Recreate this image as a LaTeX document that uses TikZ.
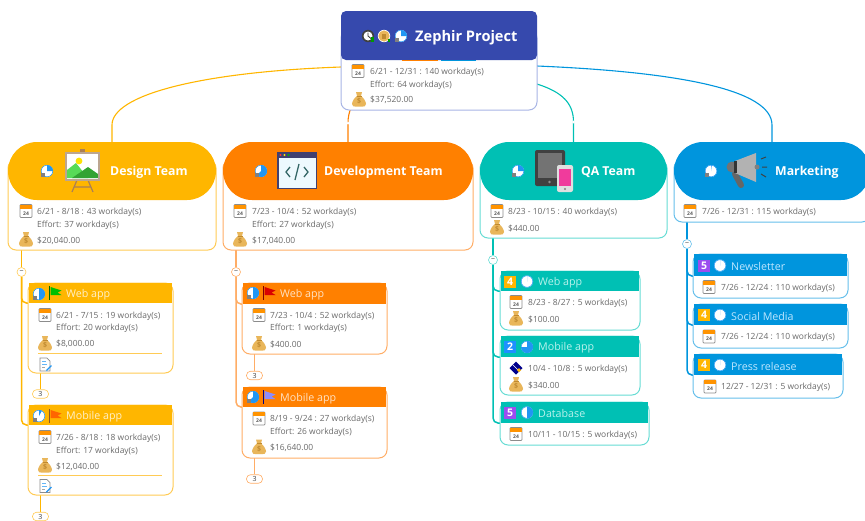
\documentclass[tikz,border=0pt]{standalone}
\usepackage{fontspec}
\setmainfont{Open Sans}
\usetikzlibrary{calc}
\pgfdeclarelayer{wires}\pgfsetlayers{wires,main}
\definecolor{cRoot}{HTML}{3649AD}\definecolor{bRoot}{HTML}{A8B5E5}
\definecolor{cDes}{HTML}{FFB600}\definecolor{bDes}{HTML}{FFCB55}\definecolor{tDes}{HTML}{FFF0C8}
\definecolor{cDev}{HTML}{FF8000}\definecolor{bDev}{HTML}{FFAD66}\definecolor{tDev}{HTML}{FFE2C4}
\definecolor{cQA}{HTML}{00C0B4}\definecolor{bQA}{HTML}{66DCD4}\definecolor{tQA}{HTML}{B8F2EC}
\definecolor{cMk}{HTML}{0095DD}\definecolor{bMk}{HTML}{66BFEB}\definecolor{tMk}{HTML}{BDE6FF}
\definecolor{txtc}{HTML}{6A6A6A}\definecolor{pieb}{HTML}{2196F3}
\definecolor{bagc}{HTML}{E9B65A}\definecolor{bagd}{HTML}{C08A30}
\definecolor{nYel}{HTML}{FFB600}\definecolor{nBlu}{HTML}{1E90FF}\definecolor{nPur}{HTML}{9B4DF0}
\newcounter{tc}
\newcommand\txt[3]{\stepcounter{tc}\node[txt] (txt\arabic{tc}) at (#1,#2) {#3};}
\newcommand\boxn[6]{%
  \pgfmathsetmacro\bw{#4-#2}\pgfmathsetmacro\bh{#5-#3}%
  \pgfmathsetmacro\bx{(#2+#4)/2}\pgfmathsetmacro\by{(#3+#5)/2}%
  \node[minimum width=\bw pt,minimum height=\bh pt,inner sep=0pt,outer sep=0pt,#6] (#1) at (\bx,\by) {};}
% sub topic: name x1 ytop x2 yhead ybottom header-colour border-colour
\newcommand\subtopic[8]{%
  \boxn{#1Body}{\the\numexpr#2-1\relax}{#3}{\the\numexpr#4+1\relax}{#6}{draw=#8,fill=white,rounded corners=8pt,line width=1pt}
  \boxn{#1}{#2}{#3}{#4}{#5}{fill=#7}}
% team: name x1 x2 ybottom colour border
\newcommand\teamtopic[6]{%
  \boxn{#1Body}{#2}{160}{#3}{#4}{draw=#6,fill=white,rounded corners=8pt,line width=1pt}
  \boxn{#1}{#2}{142}{#3}{200}{fill=#5,rounded corners=29pt}}
\newcommand\pieic[4][]{%
  \fill[white] (#2,#3) circle (6pt);
  \fill[pieb] (#2,#3) -- ++(-90:6) arc[start angle=-90,delta angle={3.6*#4},radius=6] -- cycle;
  \draw[pieb,line width=.5pt] (#2,#3) circle (5.8pt);
  \ifx\relax#1\relax\else\fill[#1] ($(#2,#3)+(-6.5,1.5)$) rectangle ($(#2,#3)+(-2.5,6)$);\fi}
\newcommand\numb[4]{\stepcounter{tc}\node[fill=#3,text=white,font=\bfseries\fontsize{10.5}{11}\selectfont,minimum size=12pt,inner sep=0pt] (num\arabic{tc}) at (#1,#2) {#4};}
\newcommand\flagic[4]{%
  \draw[#4,line width=1pt] ($(#1,#2)+(0,-7)$) -- ($(#1,#2)+(0,7)$);
  \fill[#3] ($(#1,#2)+(1,-6)$) -- ++(11,3.5) -- ++(-4,2) -- ++(4,2.5) -- ++(-11,0) -- cycle;}
\tikzset{
  x=1pt,y=-1pt,
  txt/.style={anchor=west,inner sep=0pt,yshift=-.7pt,text=txtc,font=\fontsize{8.45}{10}\selectfont},
  team/.style={anchor=west,inner sep=0pt,yshift=-1pt,text=white,font=\bfseries\fontsize{12.3}{14}\selectfont},
  sub/.style={anchor=west,inner sep=0pt,yshift=-.5pt,font=\fontsize{10.7}{12}\selectfont},
  conn/.style={line width=1.1pt},
  trunk/.style={line width=1.5pt},
  hint/.style={circle,fill=white,minimum size=3pt,inner sep=0pt},
  tog/.style={circle,draw=#1,fill=white,line width=.6pt,minimum size=9pt,inner sep=0pt,text=gray,font=\bfseries\fontsize{7}{7}\selectfont},
  cnt/.style={draw=#1,fill=white,rounded corners=4pt,line width=.6pt,minimum width=16pt,minimum height=8.5pt,inner sep=0pt,text=black!75,font=\fontsize{7}{7}\selectfont},
  cal/.pic={
    \draw[gray!90,fill=white,line width=.7pt,rounded corners=.8pt] (-6,-6.5) rectangle (6,6.5);
    \fill[orange!85!yellow] (-6,-6.5) rectangle (6,-2.5);
    \node[inner sep=0pt,text=black!65,font=\bfseries\fontsize{5}{5}\selectfont] at (0,2.2) {24};},
  moneybag/.pic={
    \fill[bagc] (-3,-7) -- (3,-7) -- (2,-3) .. controls (5,-1) and (7,3) .. (7,5) .. controls (7,7.5) and (5,7.5) .. (4,7.5) -- (-4,7.5) .. controls (-5,7.5) and (-7,7.5) .. (-7,5) .. controls (-7,3) and (-5,-1) .. (-2,-3) -- cycle;
    \draw[bagd,line width=.6pt] (-2.5,-3) -- (2.5,-3);
    \node[inner sep=0pt,text=bagd,font=\bfseries\fontsize{7}{7}\selectfont] at (0,2.3) {\$};},
  docic/.pic={
    \draw[gray!90,fill=white,line width=.7pt] (-5,-6.5) -- (2,-6.5) -- (5,-3.5) -- (5,6.5) -- (-5,6.5) -- cycle;
    \draw[pieb!70,line width=.8pt] (-3,-3) -- (1,-3) (-3,0) -- (2,0);
    \draw[gray!70,line width=.6pt] (-3,3) -- (0,3);
    \draw[pieb,line width=1.4pt] (1.5,6) -- (6.5,1);},
  miles/.pic={
    \fill[blue!55!black] (0,-6.5) -- (6.5,0) -- (0,6.5) -- (-6.5,0) -- cycle;
    \draw[white,line width=.7pt] (-3,-3) -- (3,3);
    \fill[nYel] (3,0) -- (5,2) -- (3,4) -- (1,2) -- cycle;},
}
\begin{document}
\begin{tikzpicture}
\clip (0,0) rectangle (865,520);

% ================ ROOT
\boxn{rootBody}{341}{30}{537}{110}{draw=bRoot,fill=white,rounded corners=8pt,line width=1pt}
\boxn{root}{341}{11}{537}{60}{fill=cRoot,rounded corners=5pt}
\coordinate (rootA) at (341,67);
\coordinate (rootB) at (420,60);
\coordinate (rootC) at (537,84);
\coordinate (rootD) at (537,66);
% clock icon
\fill[black!75] (368,36) circle (6.2pt);
\fill[white] (368,36) circle (4.5pt);
\draw[black!80,line width=.8pt] (368,32.5) -- (368,36) -- (371,38.5);
\fill[green!60!black] (371,37) rectangle (374,42);
% money circle icon
\fill[white] (384,36) circle (6.2pt);
\fill[bagc] (384,36) circle (5.6pt);
\fill[bagd] (382,34) rectangle (386,39);
\fill[green!60!black] (388,39) rectangle (390,42);
\pieic[gray]{401}{36}{25}
\node[anchor=west,inner sep=0pt,text=white,font=\bfseries\fontsize{14.6}{16}\selectfont] (rootTitle) at (415,37.5) {Zephir Project};
\pic at (358,71) {cal};
\pic at (359,99) {moneybag};
\txt{370}{71.5}{6/21 - 12/31 : 140 workday(s)}
\txt{370}{84.5}{Effort: 64 workday(s)}
\txt{370}{99.5}{\$37,520.00}

% ================ TEAMS
\teamtopic{design}{8}{216}{250}{cDes}{bDes}
\pieic[gray]{47}{171}{25}
% easel
\fill[brown!70!gray] (80,149) rectangle (85,154);
\draw[brown!70!gray,line width=1.2pt] (77,180) -- (72,192) (88,180) -- (93,192) (74,187) -- (91,187);
\fill[white] (66,153) rectangle (99,180);
\fill[green!65!gray!80!white] (67,178) -- (67,170) -- (76,163) -- (88,178) -- cycle;
\fill[green!55!black!80!white] (72,178) -- (88,167) -- (98,174) -- (98,178) -- cycle;
\fill[yellow!85!orange] (79,161) circle (3.4pt);
\draw[brown!50!gray!70!white,line width=1.2pt] (66,153) rectangle (99,180);
\node[team] (designTitle) at (110,171) {Design Team};
\pic at (26,211) {cal};
\pic at (26,239) {moneybag};
\txt{37}{212}{6/21 - 8/18 : 43 workday(s)}
\txt{37}{224.5}{Effort: 37 workday(s)}
\txt{37}{240}{\$20,040.00}

\teamtopic{dev}{223}{473}{250}{cDev}{bDev}
\pieic[gray]{261}{171}{62}
% code window
\fill[black!75!blue!75] (277,152) rectangle (317,189);
\fill[white!93!cyan] (278.5,158) rectangle (315.5,187.5);
\fill[red!80] (280.5,155) circle (1.1pt);
\fill[yellow!85!orange] (284.5,155) circle (1.1pt);
\fill[green!70!black] (288.5,155) circle (1.1pt);
\draw[teal!50!black!80,line width=1.3pt] (290,167) -- (286,172) -- (290,177) (299,164) -- (295,180) (304,167) -- (308,172) -- (304,177);
\node[team] (devTitle) at (324,171) {Development Team};
\pic at (240,211) {cal};
\pic at (240,239) {moneybag};
\txt{252}{212}{7/23 - 10/4 : 52 workday(s)}
\txt{252}{224.5}{Effort: 27 workday(s)}
\txt{252}{240}{\$17,040.00}

\teamtopic{qa}{480}{667}{238}{cQA}{bQA}
\pieic[gray]{518}{171}{25}
% tablet and phone
\fill[black!75,rounded corners=2pt] (535,150) rectangle (565,186);
\fill[black!55] (538,153) rectangle (562,178);
\fill[black!45] (549.5,182) circle (1.4pt);
\fill[black!12,rounded corners=2pt] (557,165) rectangle (573,192);
\fill[magenta!70!pink] (559,169) rectangle (571,186);
\fill[black!50] (565,189) circle (1.2pt);
\node[team] (qaTitle) at (581,171) {QA Team};
\pic at (497,211) {cal};
\pic at (497,227) {moneybag};
\txt{508}{212}{8/23 - 10/15 : 40 workday(s)}
\txt{508}{227.5}{\$440.00}

\teamtopic{mkt}{674}{870}{222}{cMk}{bMk}
\pieic[gray]{711}{171}{2}
% megaphone
\draw[black!60,line width=6pt,line cap=round] (735,174) -- (741,185);
\fill[black!55] (732,167) circle (5.5pt);
\fill[black!30] (735,161) -- (756,153) -- (756,182) -- (735,173) -- cycle;
\fill[black!80] (734,161) rectangle (736.5,173);
\fill[black!50] (757,167) circle (2.5pt);
\draw[black!75,line width=1pt] (761,159) -- (766,157) (762,167) -- (767,167) (761,174) -- (766,177);
\node[team] (mktTitle) at (775,171) {Marketing};
\pic at (690,211) {cal};
\txt{702}{212}{7/26 - 12/31 : 115 workday(s)}

% ================ DESIGN CHILDREN
\subtopic{dw}{29}{283}{172}{303}{373}{cDes}{bDes}
\pieic[gray]{39}{294}{50}
\flagic{49.5}{293}{green!75!black}{green!40!black}
\node[sub,text=tDes] (dwTitle) at (66,294) {Web app};
\pic at (45,315) {cal};
\pic at (45,343) {moneybag};
\txt{56}{315.5}{6/21 - 7/15 : 19 workday(s)}
\txt{56}{328}{Effort: 20 workday(s)}
\txt{56}{343.5}{\$8,000.00}
\draw[bDes,line width=1pt] (38,353.5) -- (162,353.5);
\pic at (45,364.5) {docic};

\subtopic{dm}{29}{405}{172}{425}{495}{cDes}{bDes}
\pieic[gray]{39}{416}{8}
\flagic{49.5}{416}{orange!80!red}{brown!70!black}
\node[sub,text=tDes] (dmTitle) at (66,416.5) {Mobile app};
\pic at (45,437) {cal};
\pic at (45,465) {moneybag};
\txt{56}{438}{7/26 - 8/18 : 18 workday(s)}
\txt{56}{450.5}{Effort: 17 workday(s)}
\txt{56}{466}{\$12,040.00}
\draw[bDes,line width=1pt] (38,475.5) -- (162,475.5);
\pic at (45,486) {docic};

% ================ DEV CHILDREN
\subtopic{vw}{243}{283}{386}{304}{354}{cDev}{bDev}
\pieic[gray]{253}{293}{50}
\flagic{263.5}{293}{red!85!black}{red!50!black}
\node[sub,text=tDev] (vwTitle) at (280,294) {Web app};
\pic at (259,315) {cal};
\pic at (259,343) {moneybag};
\txt{270}{315.5}{7/23 - 10/4 : 52 workday(s)}
\txt{270}{328}{Effort: 1 workday(s)}
\txt{270}{343.5}{\$400.00}

\subtopic{vm}{243}{387}{386}{407}{458}{cDev}{bDev}
\pieic[gray]{253}{397}{62}
\flagic{263.5}{397}{blue!45!white}{blue!50!black}
\node[sub,text=tDev] (vmTitle) at (280,398) {Mobile app};
\pic at (259,418.5) {cal};
\pic at (259,446.5) {moneybag};
\txt{270}{419}{8/19 - 9/24 : 27 workday(s)}
\txt{270}{431.5}{Effort: 26 workday(s)}
\txt{270}{447}{\$16,640.00}

% ================ QA CHILDREN
\subtopic{qw}{501}{271}{639}{291}{330}{cQA}{bQA}
\numb{510}{281.5}{nYel}{4}
\pieic{527}{281.5}{0}
\node[sub,text=tQA] (qwTitle) at (538,282) {Web app};
\pic at (516,302) {cal};
\pic at (516,318) {moneybag};
\txt{528}{303}{8/23 - 8/27 : 5 workday(s)}
\txt{528}{318.5}{\$100.00}

\subtopic{qm}{501}{336}{639}{357}{395}{cQA}{bQA}
\numb{510}{347}{nBlu}{2}
\pieic{527}{347}{75}
\node[sub,text=tQA] (qmTitle) at (538,347.5) {Mobile app};
\pic at (516,368) {miles};
\pic at (516,384) {moneybag};
\txt{528}{369}{10/4 - 10/8 : 5 workday(s)}
\txt{528}{384.5}{\$340.00}

\subtopic{qd}{501}{402}{648}{423}{445}{cQA}{bQA}
\numb{510}{412.5}{nPur}{5}
\pieic{527}{412.5}{50}
\node[sub,text=tQA] (qdTitle) at (538,413) {Database};
\pic at (516,434) {cal};
\txt{528}{434.5}{10/11 - 10/15 : 5 workday(s)}

% ================ MARKETING CHILDREN
\subtopic{mn}{694}{254}{847}{276}{298}{cMk}{bMk}
\numb{704}{265.5}{nPur}{5}
\pieic{720}{265.5}{0}
\node[sub,text=tMk] (mnTitle) at (731,266) {Newsletter};
\pic at (709,287) {cal};
\txt{721}{287.5}{7/26 - 12/24 : 110 workday(s)}

\subtopic{ms}{694}{304}{847}{325}{348}{cMk}{bMk}
\numb{704}{315}{nYel}{4}
\pieic{720}{315}{0}
\node[sub,text=tMk] (msTitle) at (731,316) {Social Media};
\pic at (709,336.5) {cal};
\txt{721}{337}{7/26 - 12/24 : 110 workday(s)}

\subtopic{mp}{694}{354}{842}{375}{398}{cMk}{bMk}
\numb{704}{365}{nYel}{4}
\pieic{720}{365}{0}
\node[sub,text=tMk] (mpTitle) at (731,366) {Press release};
\pic at (710,386.5) {cal};
\txt{721}{387}{12/27 - 12/31 : 5 workday(s)}

% ================ TOGGLES AND COUNTS
\node[tog=bDes] (dTog) at (21.5,272) {−};
\node[tog=bDev] (vTog) at (236,272) {−};
\node[tog=bQA] (qTog) at (493,260) {−};
\node[tog=bMk] (mTog) at (687,244) {−};
\node[cnt=bDes] (dwCnt) at (40.5,394) {3};
\node[cnt=bDes] (dmCnt) at (40.5,516.5) {3};
\node[cnt=bDev] (vwCnt) at (254.5,375.5) {3};
\node[cnt=bDev] (vmCnt) at (254.5,479) {3};
\node[hint] (devHint) at (348,123) {};
\node[hint] (qaHint) at (573.5,122) {};

% glints of the connectors under the root header
\draw[cDev,line width=1pt] (402,60.6) -- (438,60.6);
\draw[cMk,line width=1pt] (441,60.6) -- (476,60.6);

% ================ CONNECTORS (behind everything)
\begin{pgfonlayer}{wires}
\draw[conn,cDes] (rootA) .. controls (200,72) and (112,95) .. (112,125) -- (design.north);
\draw[conn,cDev] (rootB) .. controls (365,85) and (348,100) .. (devHint.center) -- (dev.north);
\draw[conn,cQA] (rootC) .. controls (562,92) and (573.5,103) .. (qaHint.center) -- (qa.north);
\draw[conn,cMk] (rootD) .. controls (680,72) and (772,90) .. (772,125) -- (mkt.north);

\draw[trunk,cDes] (designBody.south -| dTog) -- (dTog);
\draw[trunk,cDes,rounded corners=5pt] (dTog) |- (dw.south west);
\draw[trunk,cDes,rounded corners=5pt] (dTog) |- (dm.south west);
\draw[trunk,cDes] (dwBody.south -| dwCnt) -- (dwCnt);
\draw[trunk,cDes] (dmBody.south -| dmCnt) -- (dmCnt);

\draw[trunk,bDev] (devBody.south -| vTog) -- (vTog);
\draw[trunk,bDev,rounded corners=5pt] (vTog) |- (vw.south west);
\draw[trunk,bDev,rounded corners=5pt] (vTog) |- (vm.south west);
\draw[trunk,bDev] (vwBody.south -| vwCnt) -- (vwCnt);
\draw[trunk,bDev] (vmBody.south -| vmCnt) -- (vmCnt);

\draw[trunk,cQA] (qaBody.south -| qTog) -- (qTog);
\draw[trunk,cQA,rounded corners=5pt] (qTog) |- (qw.south west);
\draw[trunk,cQA,rounded corners=5pt] (qTog) |- (qm.south west);
\draw[trunk,cQA,rounded corners=5pt] (qTog) |- (qd.south west);

\draw[trunk,cMk] (mktBody.south -| mTog) -- (mTog);
\draw[trunk,cMk,rounded corners=5pt] (mTog) |- (mn.south west);
\draw[trunk,cMk,rounded corners=5pt] (mTog) |- (ms.south west);
\draw[trunk,cMk,rounded corners=5pt] (mTog) |- (mp.south west);
\end{pgfonlayer}
\end{tikzpicture}
\end{document}
